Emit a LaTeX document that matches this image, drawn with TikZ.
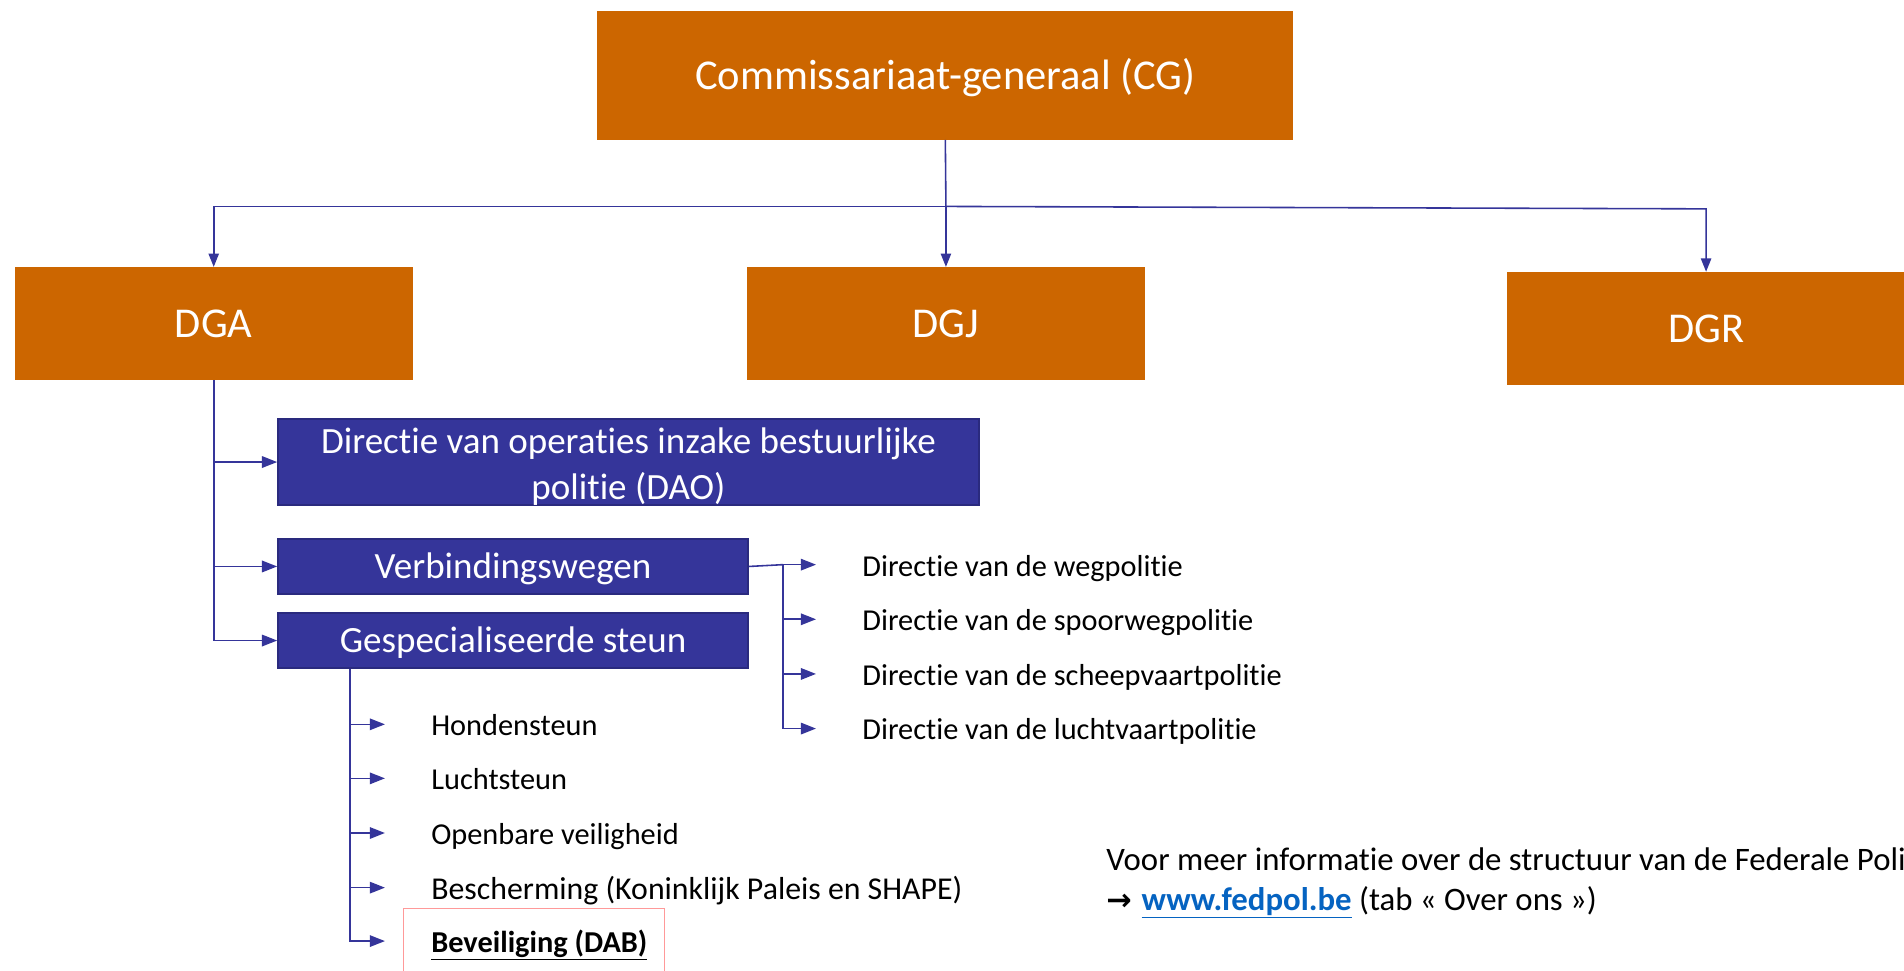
\documentclass[tikz,border=0pt]{standalone}
\usepackage{fontspec}
\setmainfont{Carlito}[Ligatures=NoCommon]
\newfontfamily\djv{DejaVu Sans}
\usetikzlibrary{arrows.meta,calc}
\definecolor{orng}{HTML}{CC6600}
\definecolor{navy}{HTML}{35359A}
\definecolor{navyd}{HTML}{2A2A7E}
\definecolor{lnk}{HTML}{0563C1}
\definecolor{pinkr}{HTML}{FF9999}
\begin{document}
\begin{tikzpicture}[x=1pt,y=-1pt,
  obox/.style={fill=orng, text=white, inner sep=0pt, font=\fontsize{35}{42}\selectfont},
  bbox/.style={fill=navy, draw=navyd, line width=1.5pt, text=white, inner sep=0pt, font=\fontsize{30.5}{37.5}\selectfont},
  bsingle/.style={bbox, text height=22.5pt, text depth=3pt},
  lbl/.style={anchor=west, inner sep=0pt, text height=18.75pt, text depth=0pt, font=\fontsize{25}{30}\selectfont},
  lblbig/.style={lbl, text height=19.5pt, font=\fontsize{26.2}{31}\selectfont},
  note/.style={lbl, text height=20.25pt, font=\fontsize{27}{32}\selectfont},
  conn/.style={draw=navy, line width=1.3pt},
  arr/.style={conn, -{Triangle[length=12.5pt,width=9.5pt]}},
  darr/.style={conn, -{Triangle[length=11pt,width=8.5pt]}},
]
\useasboundingbox (0,0) rectangle (1568,799);
\clip (0,0) rectangle (1568,799);
\fill[white] (0,0) rectangle (1568,799);

% top level
\node[obox, minimum width=573pt, minimum height=106pt, text height=31pt, text depth=7pt] (cg) at (778.5,62) {Commissariaat-generaal (CG)};
\node[obox, minimum width=328pt, minimum height=93pt] (dga) at (176,266.5) {DGA};
\node[obox, minimum width=328pt, minimum height=93pt] (dgj) at (779,266.5) {DGJ};
\node[obox, minimum width=328pt, minimum height=93pt] (dgr) at (1405,270.5) {DGR};

\draw[conn] (cg.south) -- (779,170) coordinate (j);
\draw[darr] (j) -| (dga.north);
\draw[darr] (j) -- (dgj.north);
\draw[darr] (j) -- (1405,172) -- (dgr.north);

% DGA sub boxes
\node[bbox, minimum width=577pt, minimum height=67pt, align=center] (dao) at (517.5,380.5)
  {\rule{0pt}{29pt}Directie van operaties inzake bestuurlijke\\politie (DAO)};
\node[bsingle, minimum width=387pt, minimum height=45pt] (vw) at (422.5,466.5) {Verbindingswegen};
\node[bsingle, minimum width=387pt, minimum height=45pt] (gs) at (422.5,527.5) {Gespecialiseerde steun};

\draw[arr] (dga.south) |- (dao.west);
\draw[arr] (dga.south) |- (vw.west);
\draw[arr] (dga.south) |- (gs.west);

% Verbindingswegen branches
\node[lbl] (t1) at (710,465) {Directie van de wegpolitie};
\node[lbl] (t2) at (710,510) {Directie van de spoorwegpolitie};
\node[lbl] (t3) at (710,555) {Directie van de scheepvaartpolitie};
\node[lbl] (t4) at (710,600) {Directie van de luchtvaartpolitie};

\draw[conn] (vw.east) -- (645,465) coordinate (k);
\foreach \t in {t1,t2,t3,t4}{
  \draw[arr, shorten >=38pt] (k) |- (\t.west);
}

% Gespecialiseerde steun branches
\node[lbl] (s1) at (355,596.5) {Hondensteun};
\node[lbl] (s2) at (355,641) {Luchtsteun};
\node[lbl] (s3) at (355,686) {Openbare veiligheid};
\node[lblbig] (s4) at (355,731) {Bescherming (Koninklijk Paleis en SHAPE)};
\node[lbl] (s5) at (355,775) {\textbf{\underline{Beveiliging (DAB)}}};

\coordinate (m) at ($(gs.south west)+(60,0)$);
\foreach \s in {s1,s2,s3,s4,s5}{
  \draw[arr, shorten >=38pt] (m) |- (\s.west);
}

\draw[pinkr, line width=1pt] (332,810) -- (332,748) -- (547,748) -- (547,810);

% note
\node[note] (n1) at (911,706.5) {Voor meer informatie over de structuur van de Federale Poli};
\node[note] (n2) at (911,739.5) {{\djv\bfseries\fontsize{25}{30}\selectfont →}\hspace{2pt} \textbf{\color{lnk}\underline{www.fedpol.be}} (tab « Over ons »)};
\end{tikzpicture}
\end{document}
